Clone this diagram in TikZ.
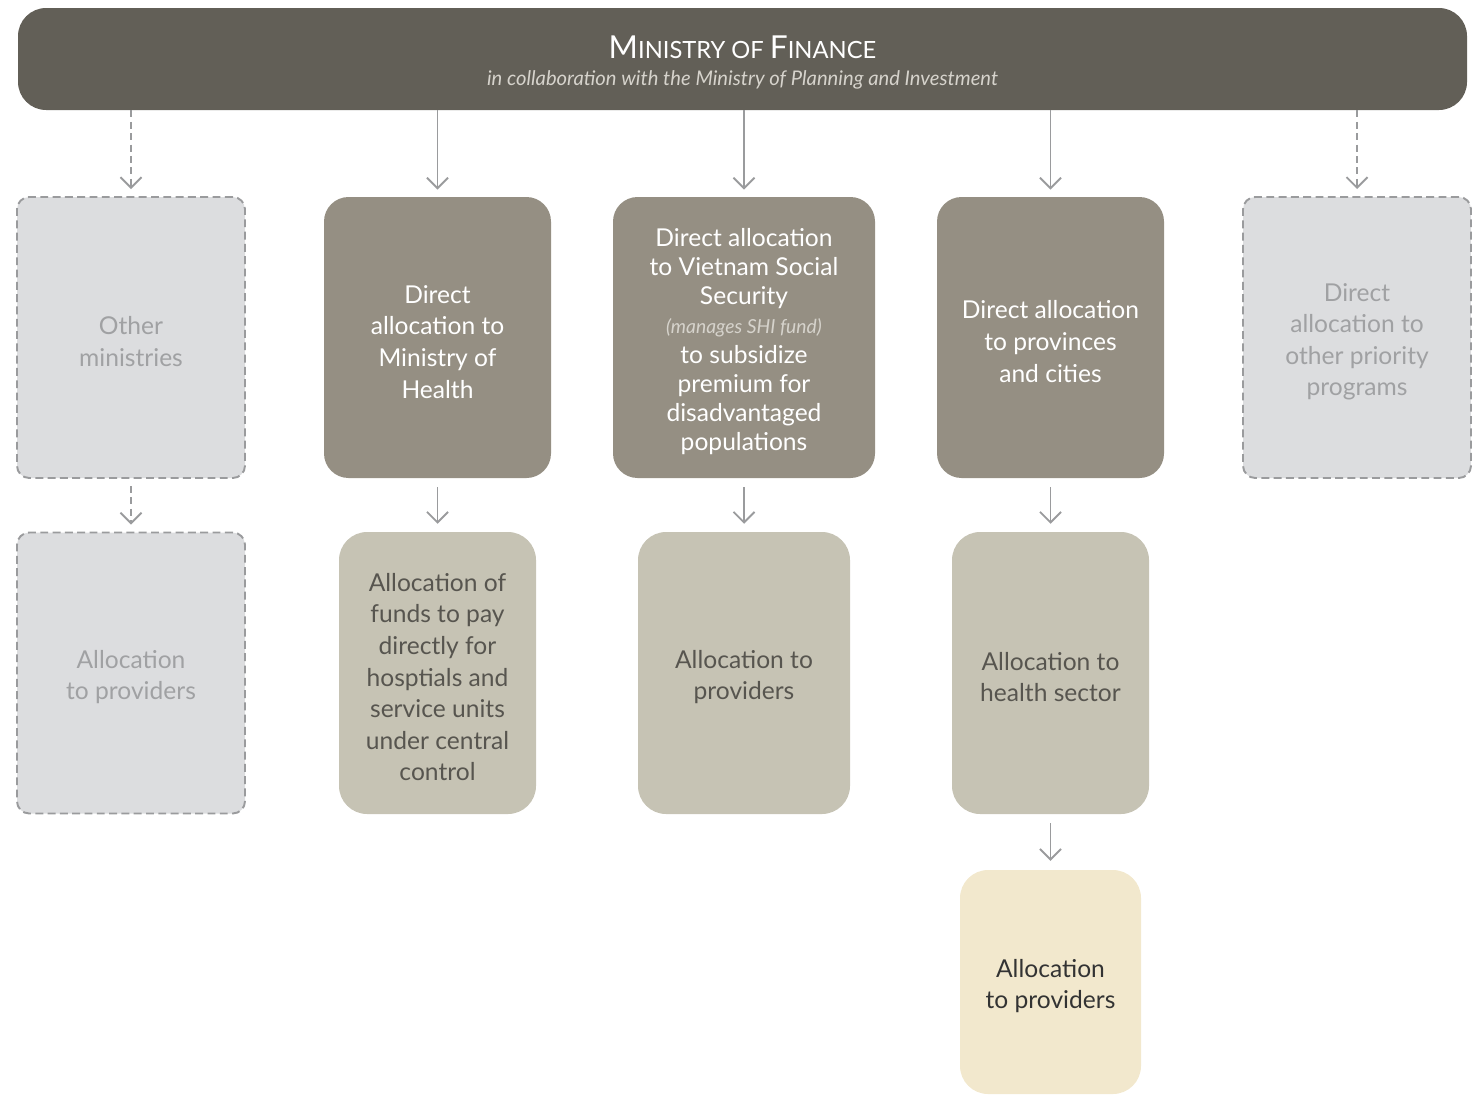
\documentclass[tikz,border=0pt]{standalone}
\usepackage{fontspec}
\setmainfont{Lato}
\usepackage{tikz}
\usetikzlibrary{arrows.meta}
\definecolor{finbar}{HTML}{625F57}
\definecolor{darkbox}{HTML}{958F83}
\definecolor{lightbox}{HTML}{C6C3B4}
\definecolor{creambox}{HTML}{F2E8CD}
\definecolor{greybox}{HTML}{DCDDDF}
\definecolor{greyline}{HTML}{9A9B9D}
\definecolor{greytext}{HTML}{A0A1A3}
\definecolor{subtext}{HTML}{D6D3CC}
\definecolor{lighttext}{HTML}{57554F}
\newlength\pxu
\setlength\pxu{0.02cm}
\newcommand\lift[1][15pt]{\rule{0pt}{#1}}
\tikzset{
  boxtext/.style={align=center, font=\fontsize{14}{18}\selectfont},
  greyshape/.style={boxtext, fill=greybox, draw=greyline, line width=1.1pt,
    dash pattern=on 4.5pt off 2.5pt, rounded corners=7pt, text=greytext,
    minimum width=228\pxu, minimum height=281\pxu},
  darkshape/.style={boxtext, fill=darkbox, text=white, rounded corners=14pt,
    minimum height=281\pxu},
  lightshape/.style={boxtext, fill=lightbox, text=lighttext, rounded corners=16pt,
    minimum height=282\pxu},
  creamshape/.style={boxtext, fill=creambox, text=black!80, rounded corners=16pt,
    minimum width=181\pxu, minimum height=224\pxu},
  flow/.style={draw=greyline, line width=1.1pt,
    -{Straight Barb[length=6pt,width=12pt,line width=1.1pt]}},
  flowdash/.style={flow, dash pattern=on 4pt off 2.5pt}
}
\begin{document}
\begin{tikzpicture}[x=0.02cm, y=-0.02cm]
  \useasboundingbox (0,0) rectangle (1479,1096);

  \node[fill=finbar, rounded corners=16pt, minimum width=1449\pxu, minimum height=102\pxu,
    align=center, text=white] (mof) at (742.5,59)
    {\lift[17pt]\fontsize{18}{20}\selectfont M\fontsize{13.5}{20}\selectfont INISTRY OF
     \fontsize{18}{20}\selectfont F\fontsize{13.5}{20}\selectfont INANCE\\[3.5pt]
     \color{subtext}\fontsize{11.5}{14}\selectfont\itshape in collaboration with the Ministry of Planning and Investment};

  \node[greyshape] (othmin) at (131,337.5) {\lift Other\\ministries};
  \node[darkshape, minimum width=227\pxu] (moh) at (437.5,337.5)
    {\lift Direct\\allocation to\\Ministry of\\Health};
  \node[darkshape, minimum width=262\pxu, font=\fontsize{14}{16.6}\selectfont] (vss) at (744,337.5)
    {\lift Direct allocation\\to Vietnam Social\\Security\\
     {\color{subtext}\fontsize{11}{16.6}\selectfont\itshape (manages SHI fund)}\\
     to subsidize\\premium for\\disadvantaged\\populations};
  \node[darkshape, minimum width=227\pxu] (prov) at (1050.5,337.5)
    {\lift Direct allocation\\to provinces\\and cities};
  \node[greyshape] (prio) at (1357,337.5)
    {\lift Direct\\allocation to\\other priority\\programs};

  \node[greyshape] (othprov) at (131,673) {\lift Allocation\\to providers};
  \node[lightshape, minimum width=197\pxu] (central) at (437.5,673)
    {\lift Allocation of\\funds to pay\\directly for\\hosptials and\\service units\\under central\\control};
  \node[lightshape, minimum width=212\pxu] (vssprov) at (744,673) {\lift Allocation to\\providers};
  \node[lightshape, minimum width=197\pxu] (health) at (1050.5,673) {\lift Allocation to\\health sector};
  \node[creamshape] (hprov) at (1050.5,982) {\lift Allocation\\to providers};

  \draw[flowdash, shorten >=4pt] (mof.south -| othmin.north) -- (othmin.north);
  \draw[flow, shorten >=4pt] (mof.south -| moh.north) -- (moh.north);
  \draw[flow, shorten >=4pt] (mof.south -| vss.north) -- (vss.north);
  \draw[flow, shorten >=4pt] (mof.south -| prov.north) -- (prov.north);
  \draw[flowdash, shorten >=4pt] (mof.south -| prio.north) -- (prio.north);

  \draw[flowdash, shorten <=4pt, shorten >=4pt] (othmin.south) -- (othprov.north);
  \draw[flow, shorten <=5pt, shorten >=4.5pt] (moh.south) -- (central.north);
  \draw[flow, shorten <=5pt, shorten >=4.5pt] (vss.south) -- (vssprov.north);
  \draw[flow, shorten <=5pt, shorten >=4.5pt] (prov.south) -- (health.north);
  \draw[flow, shorten <=5pt, shorten >=5pt] (health.south) -- (hprov.north);
\end{tikzpicture}
\end{document}
